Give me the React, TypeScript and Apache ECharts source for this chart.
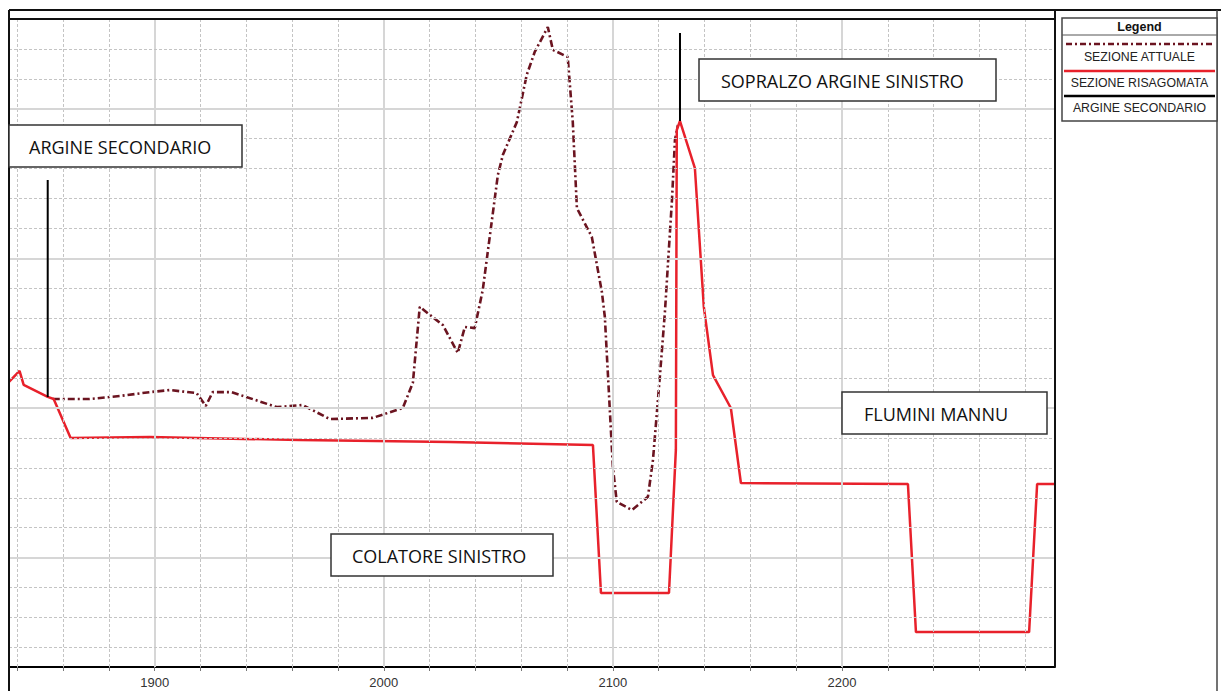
import React, { useEffect, useRef } from "react";
import * as echarts from "echarts";

// Station (m) along the section, elevation (m, relative)
const attualeX = [1855.5, 1871.6, 1884.7, 1897.8, 1906.6, 1918.3, 1922.3, 1925.3, 1933.6, 1953.3, 1964.6, 1976.4, 1995.2, 2008.3, 2012.7, 2015.7, 2025.8, 2032.3, 2035.4, 2039.7, 2043.2, 2049.8, 2052.0, 2058.1, 2062.4, 2065.9, 2071.6, 2073.8, 2080.3, 2082.5, 2084.3, 2090.8, 2095.2, 2096.5, 2100.0, 2101.7, 2108.3, 2115.3, 2117.5, 2120.5, 2122.7, 2125.8, 2127.1, 2128.4];
const attualeY = [10.30, 10.30, 10.40, 10.53, 10.60, 10.50, 10.07, 10.53, 10.53, 10.03, 10.10, 9.63, 9.67, 10.0, 10.84, 13.38, 12.77, 11.84, 12.71, 12.67, 13.94, 17.79, 18.46, 19.56, 21.13, 21.90, 22.73, 21.97, 21.73, 19.56, 16.68, 15.72, 13.88, 13.04, 8.03, 6.86, 6.59, 7.03, 8.26, 11.04, 13.18, 16.95, 18.96, 19.46];

const risagX = [1836.4, 1841.0, 1842.8, 1853.3, 1855.9, 1863.3, 1897.8, 1963.3, 2028.8, 2091.3, 2094.8, 2124.5, 2127.5, 2127.9, 2129.3, 2135.8, 2139.7, 2143.7, 2151.5, 2155.9, 2228.8, 2232.3, 2281.7, 2285.2, 2293.0];
const risagY = [10.87, 11.24, 10.77, 10.37, 10.30, 9.0, 9.03, 8.93, 8.86, 8.76, 3.82, 3.82, 8.60, 19.29, 19.59, 18.02, 13.38, 11.10, 10.0, 7.49, 7.46, 2.51, 2.51, 7.46, 7.46];

// Two separate vertical segments (null = break)
const argineX = [1853.3, 1853.3, null, 2129.3, 2129.3];
const argineY = [17.62, 10.37, null, 22.53, 19.59];

const xMin = 1836.4;
const xMax = 2293.0;
const yMin = 1.344;
const yMax = 23;
const xGridValues = [1840, 1860, 1880, 1900, 1920, 1940, 1960, 1980, 2000, 2020, 2040, 2060, 2080, 2100, 2120, 2140, 2160, 2180, 2200, 2220, 2240, 2260, 2280];
const xLabelValues = [1900, 2000, 2100, 2200];
const yGridValues = [2, 3, 4, 5, 6, 7, 8, 9, 10, 11, 12, 13, 14, 15, 16, 17, 18, 19, 20, 21, 22];
const yMajorValues = [5, 10, 15, 20];

const seriesNames = ["SEZIONE ATTUALE", "SEZIONE RISAGOMATA", "ARGINE SECONDARIO"];

const pairs = (xs: (number | null)[], ys: (number | null)[]) =>
  xs.map((x, i) => (x === null ? ["-", "-"] : [x, ys[i]]));

export default function App() {
  const ref = useRef<HTMLDivElement>(null);
  useEffect(() => {
    if (!ref.current) return;
    const chart = echarts.init(ref.current, null, { renderer: "svg" });
    const minorStyle = { color: "#c4c4c4", width: 1, type: [3, 2] as any };
    const majorStyle = { color: "#d6d6d6", width: 2, type: "solid" as any };
    const gridMarks: any[] = [];
    xGridValues.forEach((v) =>
      gridMarks.push({ xAxis: v, lineStyle: xLabelValues.includes(v) ? majorStyle : minorStyle })
    );
    yGridValues.forEach((v) =>
      gridMarks.push({ yAxis: v, lineStyle: yMajorValues.includes(v) ? majorStyle : minorStyle })
    );

    const annot = (x: number, y: number, w: number, h: number, text: string, tx: number) => [
      { type: "rect", z: 100, shape: { x, y, width: w, height: h }, style: { fill: "#fff", stroke: "#333", lineWidth: 1.5 } },
      {
        type: "text",
        z: 101,
        x: x + tx,
        y: y + h / 2 + 1,
        style: { text, fill: "#111", font: '18px "Open Sans"', verticalAlign: "middle" },
      },
    ];

    const legendText = (y: number, text: string) => ({
      type: "text",
      z: 101,
      x: 1139.5,
      y,
      style: { text, fill: "#222", font: '12.3px "Liberation Sans"', align: "center", verticalAlign: "middle" },
    });

    chart.setOption({
      animation: false,
      backgroundColor: "#fff",
      grid: { left: 9, right: 166, top: 19, bottom: 24, containLabel: false },
      xAxis: {
        type: "value",
        min: xMin,
        max: xMax,
        splitLine: { show: false },
        axisLine: { show: true, onZero: false, lineStyle: { color: "#000", width: 2 } },
        axisTick: { show: true, customValues: xGridValues, length: 4, lineStyle: { color: "#777", width: 1 } },
        axisLabel: {
          customValues: xLabelValues,
          formatter: (v: number) => String(Math.round(v)),
          color: "#333",
          fontSize: 13,
          fontFamily: "Liberation Sans",
          margin: 9,
        },
      },
      yAxis: {
        type: "value",
        min: yMin,
        max: yMax,
        splitLine: { show: false },
        axisLine: { show: false },
        axisTick: { show: false },
        axisLabel: { show: false },
      },
      series: [
        {
          name: "grid",
          type: "line",
          data: [],
          z: 0,
          silent: true,
          markLine: { silent: true, symbol: "none", label: { show: false }, data: gridMarks, animation: false },
        },
        {
          name: seriesNames[0],
          type: "line",
          data: pairs(attualeX, attualeY),
          showSymbol: false,
          symbol: "none",
          z: 3,
          lineStyle: { color: "#6b1420", width: 2.6, type: [7, 3, 2, 3] as any },
        },
        {
          name: seriesNames[1],
          type: "line",
          data: pairs(risagX, risagY),
          showSymbol: false,
          symbol: "none",
          z: 4,
          lineStyle: { color: "#e8212b", width: 2.5 },
        },
        {
          name: seriesNames[2],
          type: "line",
          data: pairs(argineX, argineY),
          showSymbol: false,
          symbol: "none",
          connectNulls: false,
          z: 5,
          lineStyle: { color: "#000", width: 2 },
        },
      ],
      graphic: [
        // frame
        { type: "line", z: 90, shape: { x1: 9, y1: 10, x2: 1221, y2: 10 }, style: { stroke: "#111", lineWidth: 2 } },
        { type: "line", z: 90, shape: { x1: 9, y1: 19, x2: 1055, y2: 19 }, style: { stroke: "#111", lineWidth: 2 } },
        { type: "line", z: 90, shape: { x1: 9, y1: 10, x2: 9, y2: 691 }, style: { stroke: "#111", lineWidth: 2 } },
        { type: "line", z: 90, shape: { x1: 1055, y1: 10, x2: 1055, y2: 667 }, style: { stroke: "#111", lineWidth: 2 } },
        { type: "line", z: 90, shape: { x1: 1217, y1: 10, x2: 1217, y2: 691 }, style: { stroke: "#444", lineWidth: 1.5 } },
        // annotations
        ...annot(9, 125, 233, 42, "ARGINE SECONDARIO", 20),
        ...annot(699, 59, 297, 42, "SOPRALZO ARGINE SINISTRO", 22),
        ...annot(842, 392, 205, 42, "FLUMINI MANNU", 22),
        ...annot(331, 534, 222, 42, "COLATORE SINISTRO", 21),
        // legend
        { type: "rect", z: 100, shape: { x: 1062, y: 18, width: 155, height: 103 }, style: { fill: "#fff", stroke: "#444", lineWidth: 1.5 } },
        {
          type: "text",
          z: 101,
          x: 1139.5,
          y: 27,
          style: { text: "Legend", fill: "#111", font: 'bold 12.5px "Liberation Sans"', align: "center", verticalAlign: "middle" },
        },
        { type: "line", z: 101, shape: { x1: 1062, y1: 35, x2: 1217, y2: 35 }, style: { stroke: "#555", lineWidth: 1 } },
        { type: "line", z: 101, shape: { x1: 1066, y1: 44, x2: 1213, y2: 44 }, style: { stroke: "#6b1420", lineWidth: 2.5, lineDash: [6, 3, 2, 3] } },
        legendText(57, seriesNames[0]),
        { type: "line", z: 101, shape: { x1: 1064, y1: 71, x2: 1215, y2: 71 }, style: { stroke: "#e8212b", lineWidth: 2.5 } },
        legendText(83, seriesNames[1]),
        { type: "line", z: 101, shape: { x1: 1064, y1: 96, x2: 1215, y2: 96 }, style: { stroke: "#000", lineWidth: 2.5 } },
        legendText(108, seriesNames[2]),
      ],
    });
    return () => chart.dispose();
  }, []);
  return (
    <div
      ref={ref}
      style={{ position: "fixed", left: 0, top: 0, width: 1221, height: 691, background: "#fff" }}
    />
  );
}
